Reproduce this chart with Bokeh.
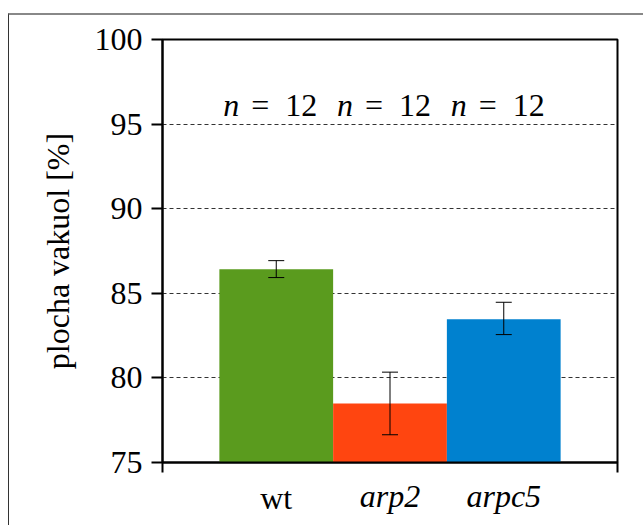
from bokeh.plotting import figure
from bokeh.models import (Range1d, FixedTicker, ColumnDataSource, Whisker, TeeHead, Label, LinearAxis)
from bokeh.embed import file_html
from bokeh.resources import INLINE

categories = ["wt", "arp2", "arpc5"]
means = [86.42, 78.49, 83.46]
err_low = [85.93, 76.64, 82.56]
err_high = [86.93, 80.34, 84.47]
n_counts = [12, 12, 12]
colors = ["#5A9B1E", "#FF4510", "#0081CF"]
positions = [1, 2, 3]

FONT = "Liberation Serif"
FS = "32px"

p = figure(width=635, height=512, output_backend="svg", toolbar_location=None,
           x_range=Range1d(0, 4), y_range=Range1d(75, 100),
           min_border_left=153, min_border_right=27, min_border_top=24, min_border_bottom=65,
           margin=(13, 0, 0, 8))
p.styles = {"border-top": "2px solid #888888", "border-left": "1px solid #333333"}

src = ColumnDataSource(dict(x=positions, top=means, lower=err_low, upper=err_high, color=colors))
p.vbar(x="x", top="top", bottom=75, width=1.0, fill_color="color", line_color=None, source=src)

wh = Whisker(base="x", upper="upper", lower="lower", source=src, line_color="black", line_width=1,
             upper_head=TeeHead(size=16, line_color="black", line_width=1),
             lower_head=TeeHead(size=16, line_color="black", line_width=1), level="overlay")
p.add_layout(wh)

# frame
p.outline_line_color = "black"
p.outline_line_width = 2
p.outline_line_alpha = 1

# y axis
p.yaxis.ticker = FixedTicker(ticks=[75, 80, 85, 90, 95, 100])
p.yaxis.major_tick_out = 11
p.yaxis.major_tick_in = 0
p.yaxis.major_tick_line_width = 2
p.yaxis.minor_tick_line_color = None
p.yaxis.axis_line_width = 2
p.yaxis.major_label_text_font = FONT
p.yaxis.major_label_text_font_size = FS
p.yaxis.major_label_text_color = "black"
p.yaxis.major_label_standoff = 9
p.yaxis.axis_label = "plocha vakuol [%]"
p.yaxis.axis_label_text_font = FONT
p.yaxis.axis_label_text_font_size = "32px"
p.yaxis.axis_label_text_font_style = "normal"
p.yaxis.axis_label_text_color = "black"
p.yaxis.axis_label_standoff = 16

# x axis: only end ticks
p.xaxis.ticker = FixedTicker(ticks=[0, 4])
p.xaxis.major_tick_out = 10
p.xaxis.major_tick_in = 0
p.xaxis.major_tick_line_width = 2
p.xaxis.minor_tick_line_color = None
p.xaxis.axis_line_width = 2
p.xaxis.major_label_text_font_size = "0px"
p.xaxis.major_label_standoff = 0
p.xaxis.major_label_text_alpha = 0

# category tick labels: upright "wt", italic gene names
ax_wt = LinearAxis(ticker=FixedTicker(ticks=[positions[0]]),
                   major_label_overrides={positions[0]: categories[0]},
                   axis_line_color=None, major_tick_line_color=None, minor_tick_line_color=None,
                   major_label_text_font=FONT, major_label_text_font_size=FS,
                   major_label_text_color="black", major_label_standoff=1)
p.add_layout(ax_wt, "below")
ax_mut = LinearAxis(ticker=FixedTicker(ticks=positions[1:]),
                    major_label_overrides={k: v for k, v in zip(positions[1:], categories[1:])},
                    axis_line_color=None, major_tick_line_color=None, minor_tick_line_color=None,
                    major_label_text_font=FONT, major_label_text_font_size=FS,
                    major_label_text_font_style="italic",
                    major_label_text_color="black", major_label_standoff=-47)
p.add_layout(ax_mut, "below")

# grid
p.xgrid.grid_line_color = None
p.ygrid.ticker = FixedTicker(ticks=[80, 85, 90, 95, 100])
p.ygrid.grid_line_color = "#333333"
p.ygrid.grid_line_width = 1
p.ygrid.grid_line_dash = "4 3"

# n = 12 annotations
for xpos, n in zip(positions, n_counts):
    p.add_layout(Label(x=xpos, y=96.15, x_offset=-37, text="n", text_align="right",
                       text_baseline="alphabetic", text_font=FONT, text_font_size=FS,
                       text_font_style="italic", text_color="black"))
    p.add_layout(Label(x=xpos, y=96.15, x_offset=-25, text="=\u00a0\u00a0" + str(n), text_align="left",
                       text_baseline="alphabetic", text_font=FONT, text_font_size=FS,
                       text_color="black"))

p.background_fill_color = "white"
p.border_fill_color = "white"

open("out.html", "w").write(file_html(p, INLINE))
